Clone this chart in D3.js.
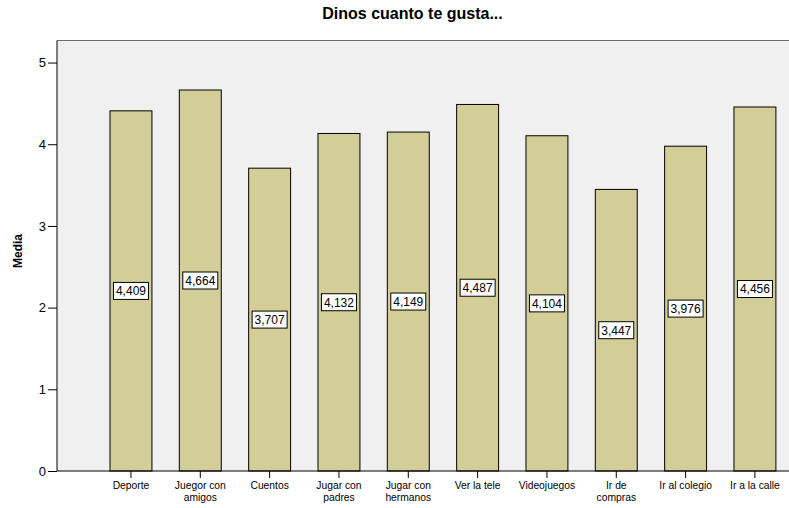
<!DOCTYPE html>
<html>
<head>
<meta charset="utf-8">
<script src="https://cdn.jsdelivr.net/npm/d3@7"></script>
<style>
  html, body { margin: 0; padding: 0; background: #ffffff; }
  svg { display: block; font-family: Arial, "Liberation Sans", sans-serif; }
</style>
</head>
<body>
<svg id="chart" width="789" height="508"></svg>
<script>
const categories = ["Deporte", "Juegor con amigos", "Cuentos", "Jugar con padres", "Jugar con hermanos", "Ver la tele", "Videojuegos", "Ir de compras", "Ir al colegio", "Ir a la calle"];
const values = [4.409, 4.664, 3.707, 4.132, 4.149, 4.487, 4.104, 3.447, 3.976, 4.456];
const yTicks = [0, 1, 2, 3, 4, 5];
const title = "Dinos cuanto te gusta...";
const yLabel = "Media";

const svg = d3.select("#chart");
const plot = { left: 57, right: 789, top: 40.5, bottom: 471 };

const y = d3.scaleLinear().domain([0, 5.27]).range([plot.bottom, plot.top]);
const x = d3.scaleBand().domain(categories).range([96.3, 789.6]).paddingInner(0.395).paddingOuter(0.1975);

// plot background
svg.append("rect")
  .attr("x", plot.left).attr("y", plot.top)
  .attr("width", plot.right - plot.left).attr("height", plot.bottom - plot.top)
  .attr("fill", "#f0f0f0");
svg.append("line")
  .attr("x1", plot.left).attr("x2", plot.right)
  .attr("y1", plot.top).attr("y2", plot.top)
  .attr("stroke", "#6b6b6b").attr("stroke-width", 1);

// bars
const data = categories.map((c, i) => ({ c, v: values[i] }));
svg.append("g").selectAll("rect").data(data).join("rect")
  .attr("x", d => x(d.c))
  .attr("y", d => y(d.v))
  .attr("width", x.bandwidth())
  .attr("height", d => y(0) - y(d.v))
  .attr("fill", "#d3ce97")
  .attr("stroke", "#000")
  .attr("stroke-width", 1);

// value labels
const fmt = v => d3.format(".3f")(v).replace(".", ",");
const lab = svg.append("g").selectAll("g").data(data).join("g")
  .attr("transform", d => `translate(${x(d.c) + x.bandwidth() / 2},${y(d.v / 2)})`);
lab.append("rect")
  .attr("x", -17.5).attr("y", -8.5).attr("width", 35).attr("height", 17)
  .attr("fill", "#fff").attr("stroke", "#000").attr("stroke-width", 1);
lab.append("text")
  .attr("text-anchor", "middle").attr("dy", "0.36em")
  .attr("font-size", 12).attr("fill", "#000")
  .text(d => fmt(d.v));

// y axis
const yAxis = svg.append("g")
  .attr("transform", `translate(${plot.left},0)`)
  .call(d3.axisLeft(y).tickValues(yTicks).tickFormat(d3.format("d")).tickSize(9).tickPadding(2));
yAxis.select(".domain").attr("stroke", "#000").attr("d", `M0,${plot.top}V${plot.bottom}`);
yAxis.selectAll("text").attr("font-size", 13).attr("font-family", "Arial, 'Liberation Sans', sans-serif").attr("fill", "#000");

// x axis
const xAxis = svg.append("g")
  .attr("transform", `translate(0,${plot.bottom})`)
  .call(d3.axisBottom(x).tickSize(7).tickPadding(4));
xAxis.select(".domain").attr("stroke", "#000").attr("d", `M${plot.left},0H${plot.right}`);
xAxis.selectAll("text").attr("font-size", 10.3).attr("font-family", "Arial, 'Liberation Sans', sans-serif").attr("fill", "#000")
  .each(function (d) {
    const t = d3.select(this);
    const words = d.split(" ");
    t.text(null);
    let line = [];
    let tspan = t.append("tspan").attr("x", 0).attr("dy", "0.71em");
    words.forEach(w => {
      line.push(w);
      tspan.text(line.join(" "));
      if (tspan.node().getComputedTextLength() > 61 && line.length > 1) {
        line.pop();
        tspan.text(line.join(" "));
        line = [w];
        tspan = t.append("tspan").attr("x", 0).attr("dy", "1.13em").text(w);
      }
    });
  });

// title
svg.append("text")
  .attr("x", 412.5).attr("y", 18.5)
  .attr("text-anchor", "middle")
  .attr("font-size", 16).attr("font-weight", "bold")
  .text(title);

// y label
svg.append("text")
  .attr("transform", `translate(22,251) rotate(-90)`)
  .attr("text-anchor", "middle")
  .attr("font-size", 12).attr("font-weight", "bold")
  .text(yLabel);
</script>
</body>
</html>
